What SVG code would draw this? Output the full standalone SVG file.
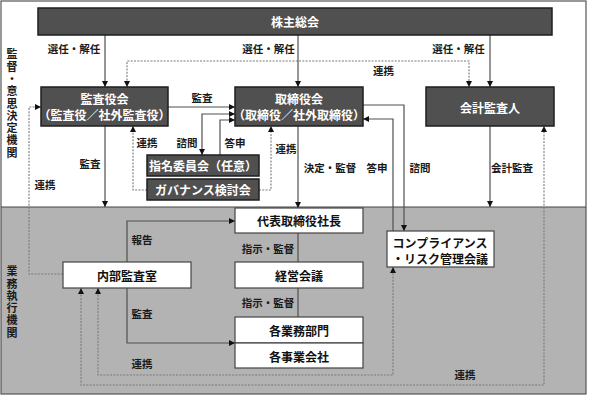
<svg xmlns="http://www.w3.org/2000/svg" width="591" height="396" viewBox="0 0 591 396">
<style>
text{font-family:"Noto Sans CJK JP","Noto Sans",sans-serif;}
.dk{fill:#505050;stroke:#1e1e1e;stroke-width:1.5;}
.wt{fill:#ffffff;stroke:#444;stroke-width:1.2;}
.tw{fill:#ffffff;font-size:12px;font-weight:bold;text-anchor:middle;dominant-baseline:central;}
.tb{fill:#111;font-size:12px;font-weight:bold;text-anchor:middle;dominant-baseline:central;}
.lb{fill:#1a1a1a;font-size:10.5px;font-weight:bold;text-anchor:middle;dominant-baseline:central;}
.vt{fill:#1a1a1a;font-size:11px;font-weight:bold;writing-mode:vertical-rl;text-anchor:middle;letter-spacing:1.3px;}
.ln{fill:none;stroke:#505050;stroke-width:1.2;}
.ds{fill:none;stroke:#7a7a7a;stroke-width:1.1;stroke-dasharray:2,1.3;}
</style>
<defs>
<marker id="ah" viewBox="0 0 8 8" refX="8" refY="4" markerWidth="6" markerHeight="6" orient="auto" markerUnits="userSpaceOnUse">
<path d="M0,0 L8,4 L0,8 Z" fill="#111"/>
</marker>
<marker id="as" viewBox="0 0 8 8" refX="0" refY="4" markerWidth="6" markerHeight="6" orient="auto" markerUnits="userSpaceOnUse">
<path d="M8,0 L0,4 L8,8 Z" fill="#111"/>
</marker>
</defs>
<rect x="0" y="0" width="591" height="396" fill="#ffffff"/>
<rect id="exec-area" x="1" y="207" width="585" height="187" fill="#b3b3b3"/>
<rect id="frame" x="1" y="1" width="585" height="393" fill="none" stroke="#555" stroke-width="1.2"/>
<line x1="1" y1="207" x2="586" y2="207" stroke="#444" stroke-width="1.2"/>
<text class="vt" x="12" y="104">監督・意思決定機関</text>
<text class="vt" x="12" y="302.5">業務執行機関</text>

<g id="connectors">
<line class="ln" x1="105" y1="35" x2="105" y2="87" marker-end="url(#ah)"/>
<line class="ln" x1="298" y1="35" x2="298" y2="87" marker-end="url(#ah)"/>
<line class="ln" x1="490" y1="35" x2="490" y2="87" marker-end="url(#ah)"/>
<text class="lb" x="74" y="48">選任・解任</text>
<text class="lb" x="268.5" y="48">選任・解任</text>
<text class="lb" x="458.5" y="48">選任・解任</text>
<polyline class="ds" points="127,87 127,61 469,61 469,87" marker-start="url(#as)" marker-end="url(#ah)"/>
<text class="lb" x="383.5" y="70">連携</text>
<line class="ln" x1="168" y1="107" x2="235" y2="107" marker-end="url(#ah)"/>
<text class="lb" x="202" y="97">監査</text>
<polyline class="ln" points="235,114 202,114 202,155" marker-start="url(#as)" marker-end="url(#ah)"/>
<text class="lb" x="187" y="142">諮問</text>
<polyline class="ln" points="220,155 220,120 235,120" marker-end="url(#ah)"/>
<text class="lb" x="235" y="142">答申</text>
<polyline class="ds" points="147,190 133,190 133,126" marker-end="url(#ah)"/>
<text class="lb" x="147" y="142">連携</text>
<polyline class="ds" points="259,190 271,190 271,126" marker-end="url(#ah)"/>
<text class="lb" x="286" y="148">連携</text>
<line class="ln" x1="105" y1="126" x2="105" y2="207" marker-end="url(#ah)"/>
<text class="lb" x="90" y="163">監査</text>
<line class="ln" x1="298" y1="126" x2="298" y2="208" marker-end="url(#ah)"/>
<text class="lb" x="330" y="167">決定・監督</text>
<polyline class="ln" points="393,231 393,119 363,119" marker-end="url(#ah)"/>
<text class="lb" x="377" y="167">答申</text>
<polyline class="ln" points="363,105 404,105 404,231" marker-end="url(#ah)"/>
<text class="lb" x="420" y="167">諮問</text>
<line class="ln" x1="490" y1="126" x2="490" y2="207" marker-end="url(#ah)"/>
<text class="lb" x="512" y="167">会計監査</text>
<polyline class="ds" points="63,274 29,274 29,107 41,107" marker-end="url(#ah)"/>
<text class="lb" x="45" y="184">連携</text>
<polyline class="ln" points="127,262 127,221 235,221" marker-end="url(#ah)"/>
<text class="lb" x="142" y="239">報告</text>
<polyline class="ln" points="127,288 127,343 235,343" marker-end="url(#ah)"/>
<text class="lb" x="142" y="313">監査</text>
<line class="ln" x1="298" y1="233" x2="298" y2="262"/>
<text class="lb" x="268" y="248">指示・監督</text>
<line class="ln" x1="298" y1="288" x2="298" y2="317"/>
<text class="lb" x="268" y="302">指示・監督</text>
<polyline class="ds" points="98,288 98,375 393,375 393,267" marker-start="url(#as)" marker-end="url(#ah)"/>
<text class="lb" x="142" y="363">連携</text>
<polyline class="ds" points="81,288 81,385 544,385 544,126" marker-start="url(#as)" marker-end="url(#ah)"/>
<text class="lb" x="465" y="374">連携</text>
</g>

<g id="shareholders">
<rect class="dk" x="38" y="8" width="514" height="27"/>
<text class="tw" x="295" y="21.5">株主総会</text>
</g>
<g id="audit-board">
<rect class="dk" x="41" y="87" width="127" height="39"/>
<text class="tw" x="104.5" y="98.5">監査役会</text>
<text class="tw" x="104.5" y="114.5">（監査役／社外監査役）</text>
</g>
<g id="board">
<rect class="dk" x="235" y="87" width="128" height="39"/>
<text class="tw" x="299" y="98.5">取締役会</text>
<text class="tw" x="299" y="114.5">（取締役／社外取締役）</text>
</g>
<g id="accounting-auditor">
<rect class="dk" x="426" y="87" width="128" height="39"/>
<text class="tw" x="490" y="107">会計監査人</text>
</g>
<g id="nomination">
<rect class="dk" x="147" y="155" width="112" height="21"/>
<text class="tw" x="203" y="165.5">指名委員会（任意）</text>
</g>
<g id="governance">
<rect class="dk" x="147" y="179" width="112" height="21"/>
<text class="tw" x="203" y="189.5">ガバナンス検討会</text>
</g>
<g id="president">
<rect class="wt" x="235" y="208" width="128" height="25"/>
<text class="tb" x="299" y="220.5">代表取締役社長</text>
</g>
<g id="management">
<rect class="wt" x="235" y="262" width="128" height="26"/>
<text class="tb" x="299" y="275.5">経営会議</text>
</g>
<g id="divisions">
<rect class="wt" x="235" y="317" width="128" height="26"/>
<text class="tb" x="299" y="330">各業務部門</text>
</g>
<g id="companies">
<rect class="wt" x="235" y="343" width="128" height="25"/>
<text class="tb" x="299" y="356">各事業会社</text>
</g>
<g id="internal-audit">
<rect class="wt" x="63" y="262" width="128" height="26"/>
<text class="tb" x="127" y="275.5">内部監査室</text>
</g>
<g id="compliance">
<rect class="wt" x="387" y="231" width="107" height="36"/>
<text class="tb" x="440" y="242.5">コンプライアンス</text>
<text class="tb" x="440" y="258.5">・リスク管理会議</text>
</g>
</svg>
